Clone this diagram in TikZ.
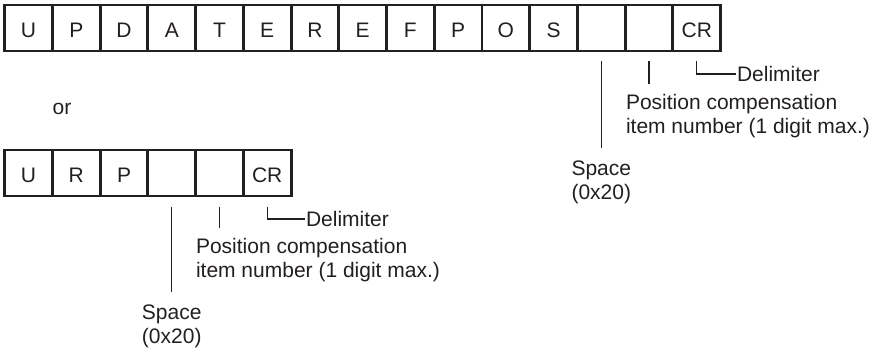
\documentclass[tikz,border=0pt]{standalone}
\usepackage{fontspec}
\setmainfont{Liberation Sans}
\usetikzlibrary{positioning}
\definecolor{ink}{HTML}{231F20}
\tikzset{cell/.style={draw=ink,line width=2.9pt,inner sep=0,outer xsep=0,outer ysep=10.5pt,minimum width=47.73pt,minimum height=46pt,text height=19pt,text depth=0pt,text=ink,font=\fontsize{21}{24}\selectfont},lbl/.style={inner sep=0,outer sep=0,text=ink,font=\fontsize{21}{24}\selectfont},ln/.style={draw=ink,line width=1.3pt}}
\begin{document}
\begin{tikzpicture}[x=1pt,y=-1pt]
\useasboundingbox (0,0) rectangle (873,353);
% command in full
\foreach \l [count=\i] in {U,P,D,A,T,E,R,E,F,P,O,S,{},{},CR}\node[cell] (t\i) at ({4.7+47.73*(\i-.5)},28) {\l};
\node[lbl,outer ysep=13.5pt,align=center,below=86pt of t13] (sp1) {Space\\(0x20)};
\node[lbl,outer ysep=10pt,align=left,anchor=north west] (pc1) at (626,84) {Position compensation\\item number (1 digit max.)};
\node[lbl,outer xsep=1.5pt,anchor=west] (dl1) at (735.5,74) {Delimiter};
\draw[ln] (t13.south)--(sp1.north);\draw[ln] (t14.south)--(t14.south|-pc1.north);\draw[ln] (t15.south)|-(dl1.west);
\node[lbl] (or) at (62,108.5) {or};
% short form
\foreach \l [count=\i] in {U,R,P,{},{},CR}\node[cell] (b\i) at ({4.7+47.73*(\i-.5)},173) {\l};
\node[lbl,outer ysep=13.5pt,align=center,below=85pt of b4] (sp2) {Space\\(0x20)};
\node[lbl,outer ysep=10pt,align=left,anchor=north west] (pc2) at (196,228) {Position compensation\\item number (1 digit max.)};
\node[lbl,outer xsep=1.5pt,anchor=west] (dl2) at (304.5,219) {Delimiter};
\draw[ln] (b4.south)--(sp2.north);\draw[ln] (b5.south)--(b5.south|-pc2.north);\draw[ln] (b6.south)|-(dl2.west);
\end{tikzpicture}
\end{document}
